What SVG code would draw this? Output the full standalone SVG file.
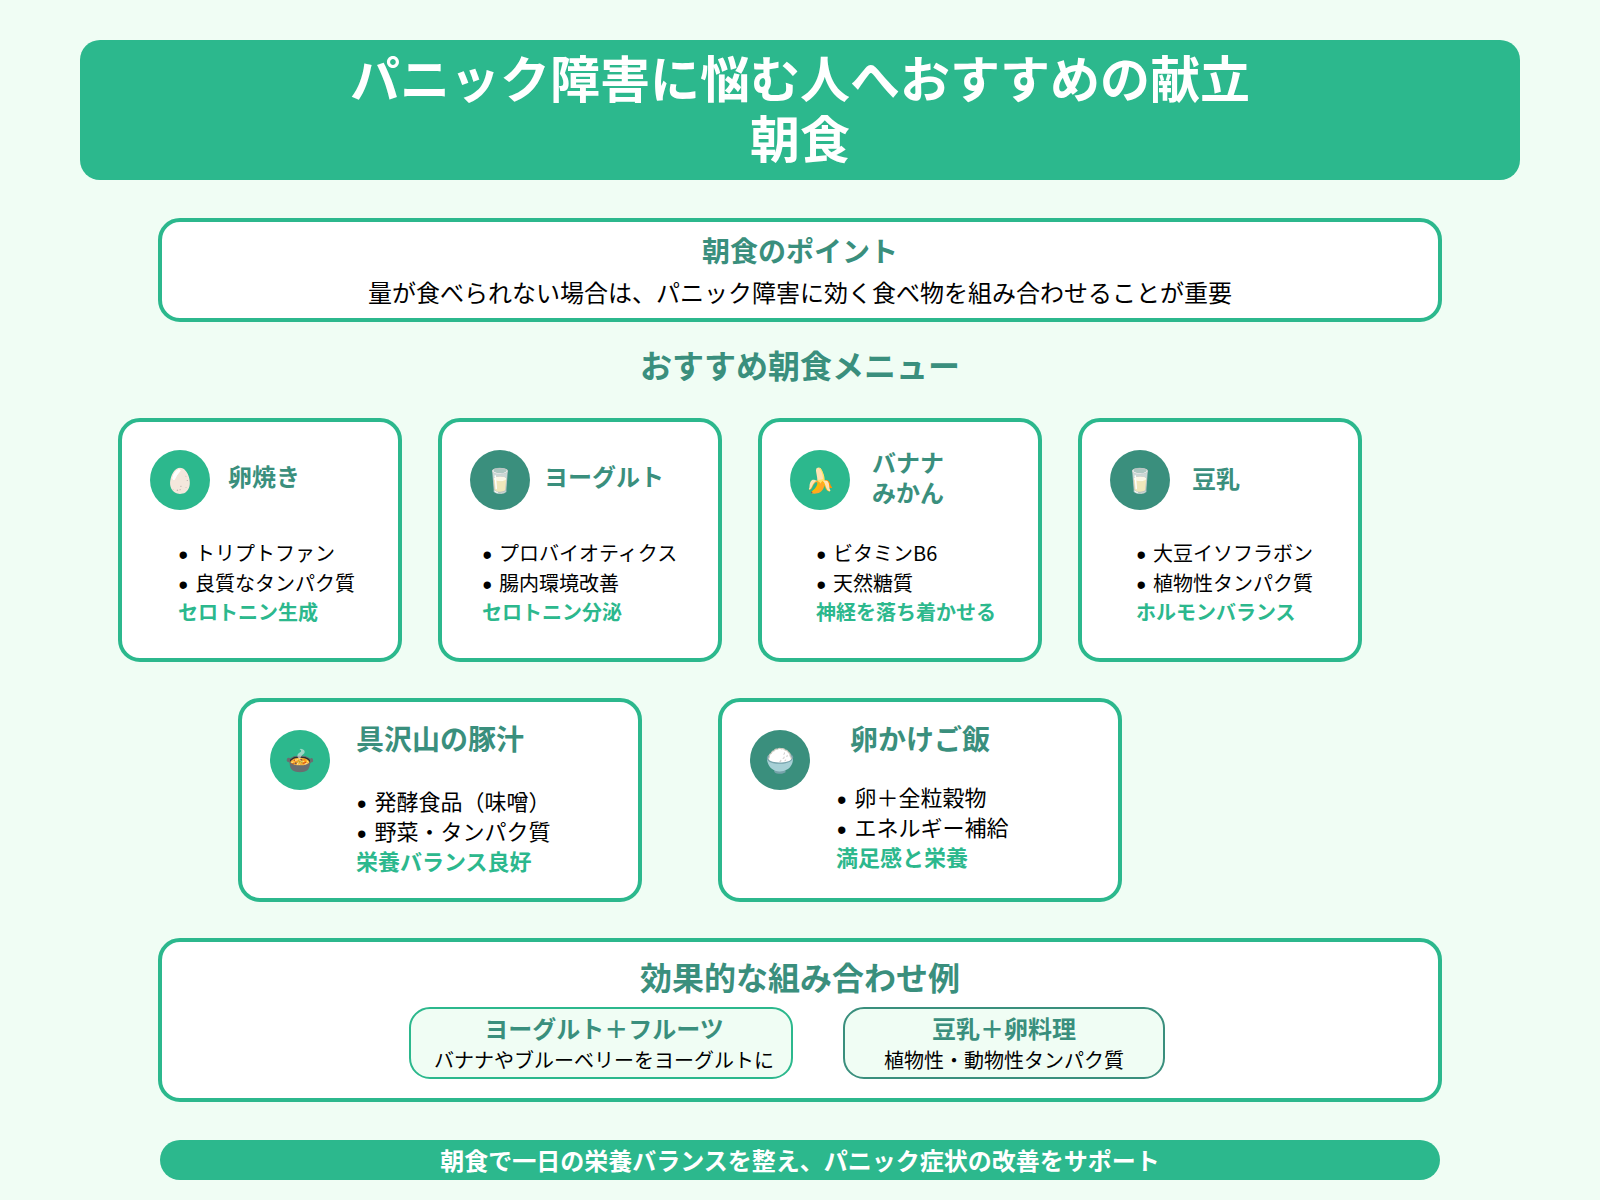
<svg xmlns="http://www.w3.org/2000/svg" width="1600" height="1200" viewBox="0 0 1600 1200">
<style>
text{font-family:"Noto Sans CJK JP","Noto Sans",sans-serif;fill:#000}
.b{fill:#fff;stroke:#2cb88d;stroke-width:4}
.g{fill:#2cb88d}.d{fill:#3a8f7d}
.t{font-weight:700;fill:#3a8f7d}
.e{font-weight:700;fill:#2cb88d;font-size:20px}
.l{font-size:20px}
.p{font-size:22px}
.u{font-family:"Liberation Sans",sans-serif;font-size:27px}
.m{text-anchor:middle}
.i{font-size:24px;text-anchor:middle;font-family:"Noto Color Emoji","Noto Sans CJK JP",sans-serif}
</style>
<rect width="1600" height="1200" fill="#f0fdf4"/>
<g id="header"><rect class="g" x="80" y="40" width="1440" height="140" rx="20"/>
<text class="m" x="800" y="98" font-size="50" font-weight="700" style="fill:#fff">パニック障害に悩む人へおすすめの献立</text>
<text class="m" x="800" y="158" font-size="50" font-weight="700" style="fill:#fff">朝食</text></g>
<g id="point"><rect class="b" x="160" y="220" width="1280" height="100" rx="20"/>
<text class="t m" x="800" y="262" font-size="28">朝食のポイント</text>
<text class="m" x="800" y="302" font-size="24">量が食べられない場合は、パニック障害に効く食べ物を組み合わせることが重要</text></g>
<text id="menu-title" class="t m" x="800" y="378" font-size="32">おすすめ朝食メニュー</text>
<g id="card-egg"><rect class="b" x="120" y="420" width="280" height="240" rx="20"/><circle class="g" cx="180" cy="480" r="30"/><text class="i" x="180" y="489" style="filter:saturate(.12) brightness(1.35)">🥚</text>
<text class="t" x="228" y="486" font-size="24">卵焼き</text>
<text class="l" y="560.5"><tspan class="u" x="178.6" dy="3">•</tspan><tspan x="195" dy="-3">トリプトファン</tspan></text><text class="l" y="590.5"><tspan class="u" x="178.6" dy="3">•</tspan><tspan x="195" dy="-3">良質なタンパク質</tspan></text><text class="e" x="178" y="620">セロトニン生成</text></g>
<g id="card-yogurt"><rect class="b" x="440" y="420" width="280" height="240" rx="20"/><circle class="d" cx="500" cy="480" r="30"/><text class="i" x="500" y="489">🥛</text>
<text class="t" x="544" y="486" font-size="24">ヨーグルト</text>
<text class="l" y="560.5"><tspan class="u" x="482.6" dy="3">•</tspan><tspan x="499" dy="-3">プロバイオティクス</tspan></text><text class="l" y="590.5"><tspan class="u" x="482.6" dy="3">•</tspan><tspan x="499" dy="-3">腸内環境改善</tspan></text><text class="e" x="482" y="620">セロトニン分泌</text></g>
<g id="card-banana"><rect class="b" x="760" y="420" width="280" height="240" rx="20"/><circle class="g" cx="820" cy="480" r="30"/><text class="i" x="820" y="489">🍌</text>
<text class="t" x="872" y="472" font-size="24">バナナ</text><text class="t" x="872" y="502" font-size="24">みかん</text>
<text class="l" y="560.5"><tspan class="u" x="816.6" dy="3">•</tspan><tspan x="833" dy="-3">ビタミンB6</tspan></text><text class="l" y="590.5"><tspan class="u" x="816.6" dy="3">•</tspan><tspan x="833" dy="-3">天然糖質</tspan></text><text class="e" x="816" y="620">神経を落ち着かせる</text></g>
<g id="card-soy"><rect class="b" x="1080" y="420" width="280" height="240" rx="20"/><circle class="d" cx="1140" cy="480" r="30"/><text class="i" x="1140" y="489">🥛</text>
<text class="t" x="1192" y="488" font-size="24">豆乳</text>
<text class="l" y="560.5"><tspan class="u" x="1136.6" dy="3">•</tspan><tspan x="1153" dy="-3">大豆イソフラボン</tspan></text><text class="l" y="590.5"><tspan class="u" x="1136.6" dy="3">•</tspan><tspan x="1153" dy="-3">植物性タンパク質</tspan></text><text class="e" x="1136" y="620">ホルモンバランス</text></g>
<g id="card-soup"><rect class="b" x="240" y="700" width="400" height="200" rx="20"/><circle class="g" cx="300" cy="760" r="30"/><text class="i" x="300" y="769">🍲</text>
<text class="t" x="356" y="750" font-size="28">具沢山の豚汁</text>
<text class="p" y="810"><tspan class="u" x="357" dy="3">•</tspan><tspan x="374.5" dy="-3">発酵食品（味噌）</tspan></text><text class="p" y="840"><tspan class="u" x="357" dy="3">•</tspan><tspan x="374.5" dy="-3">野菜・タンパク質</tspan></text><text class="e" x="356" y="870" style="font-size:22px">栄養バランス良好</text></g>
<g id="card-rice"><rect class="b" x="720" y="700" width="400" height="200" rx="20"/><circle class="d" cx="780" cy="760" r="30"/><text class="i" x="780" y="769">🍚</text>
<text class="t" x="850" y="750" font-size="28">卵かけご飯</text>
<text class="p" y="806"><tspan class="u" x="837" dy="3">•</tspan><tspan x="854.5" dy="-3">卵＋全粒穀物</tspan></text><text class="p" y="835.5"><tspan class="u" x="837" dy="3">•</tspan><tspan x="854.5" dy="-3">エネルギー補給</tspan></text><text class="e" x="836" y="865.5" style="font-size:22px">満足感と栄養</text></g>
<g id="combos"><rect class="b" x="160" y="940" width="1280" height="160" rx="20"/>
<text class="t m" x="800" y="990" font-size="32">効果的な組み合わせ例</text>
<rect x="410" y="1008" width="382" height="70" rx="20" fill="#f0fdf4" stroke="#2cb88d" stroke-width="2"/>
<text class="t m" x="604" y="1038" font-size="24">ヨーグルト＋フルーツ</text><text class="m" x="604" y="1068" font-size="20">バナナやブルーベリーをヨーグルトに</text>
<rect x="844" y="1008" width="320" height="70" rx="20" fill="#f0fdf4" stroke="#3a8f7d" stroke-width="2"/>
<text class="t m" x="1004" y="1038" font-size="24">豆乳＋卵料理</text><text class="m" x="1004" y="1068" font-size="20">植物性・動物性タンパク質</text></g>
<g id="footer"><rect class="g" x="160" y="1140" width="1280" height="40" rx="20"/>
<text class="m" x="800" y="1170" font-size="24" font-weight="700" style="fill:#fff">朝食で一日の栄養バランスを整え、パニック症状の改善をサポート</text></g>
</svg>
